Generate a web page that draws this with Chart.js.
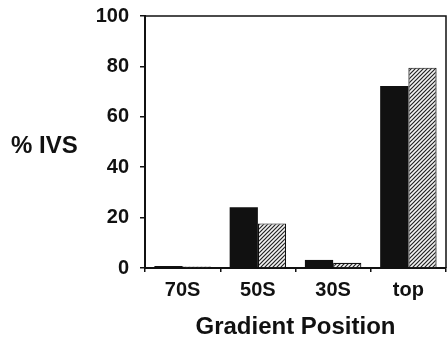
<!DOCTYPE html>
<html>
<head>
<meta charset="utf-8">
<script src="https://cdn.jsdelivr.net/npm/chart.js@4.4.1/dist/chart.umd.min.js"></script>
<style>
  html, body { margin: 0; padding: 0; background: #fff; }
  #wrap { width: 448px; height: 338px; position: relative; }
</style>
</head>
<body>
<div id="wrap"><canvas id="c" width="448" height="338"></canvas></div>
<script>
const categories = ['70S', '50S', '30S', 'top'];
const solidValues = [0.8, 24.1, 3.2, 72.2];
const hatchedValues = [0.6, 17.7, 2.1, 79.5];
const yTickValues = [0, 20, 40, 60, 80, 100];
const yAxisLabel = '% IVS';
const xAxisLabel = 'Gradient Position';

function makeHatch() {
  const s = 4;
  const p = document.createElement('canvas');
  p.width = s; p.height = s;
  const g = p.getContext('2d');
  g.fillStyle = '#f4f4f4';
  g.fillRect(0, 0, s, s);
  g.strokeStyle = '#222';
  g.lineWidth = 1.2;
  g.beginPath();
  g.moveTo(-1, s + 1); g.lineTo(s + 1, -1);
  g.moveTo(-1, 1); g.lineTo(1, -1);
  g.moveTo(s - 1, s + 1); g.lineTo(s + 1, s - 1);
  g.stroke();
  return g.createPattern(p, 'repeat');
}

const ctx = document.getElementById('c').getContext('2d');
const hatch = makeHatch();
const FONT = "'Liberation Sans', Arial, Helvetica, sans-serif";

const framePlugin = {
  id: 'frame',
  afterDraw(chart) {
    const a = chart.chartArea;
    const c = chart.ctx;
    c.save();
    c.strokeStyle = '#111';
    c.lineWidth = 1.5;
    c.beginPath();
    c.moveTo(a.left, a.top);
    c.lineTo(a.right, a.top);
    c.lineTo(a.right, a.bottom);
    c.stroke();
    c.fillStyle = '#111';
    c.font = 'bold 24px ' + FONT;
    c.textAlign = 'left';
    c.textBaseline = 'middle';
    c.fillText(yAxisLabel, 11, 146);
    c.restore();
  }
};

new Chart(ctx, {
  type: 'bar',
  data: {
    labels: categories,
    datasets: [
      { data: solidValues, backgroundColor: '#111', borderColor: '#111', borderWidth: 0 },
      { data: hatchedValues, backgroundColor: hatch, borderColor: '#111', borderWidth: 1.2 }
    ]
  },
  options: {
    responsive: false,
    animation: false,
    devicePixelRatio: 1,
    layout: { padding: { left: 0, right: 2, top: 16, bottom: 0 } },
    plugins: { legend: { display: false }, tooltip: { enabled: false } },
    datasets: { bar: { categoryPercentage: 0.75, barPercentage: 1.0 } },
    scales: {
      x: {
        afterFit(s) { s.height = 70; s.paddingLeft = 0; s.paddingRight = 0; },
        grid: { display: true, drawOnChartArea: false, drawTicks: true, tickLength: 4, offset: true, color: '#111', lineWidth: 1.5 },
        border: { display: true, color: '#111', width: 2 },
        ticks: { color: '#111', font: { family: FONT, size: 20, weight: 'bold' }, padding: 6 },
        title: { display: true, text: xAxisLabel, color: '#111', font: { family: FONT, size: 24, weight: 'bold', lineHeight: 0.85 }, padding: { top: 8, bottom: 0 } }
      },
      y: {
        min: 0, max: 100,
        afterFit(s) { s.width = 145; s.paddingTop = 0; s.paddingBottom = 0; },
        afterBuildTicks(s) {
          s.ticks = [];
          for (let v = 0; v <= 100; v += 10) s.ticks.push({ value: v });
        },
        grid: { display: true, drawOnChartArea: false, drawTicks: true, tickLength: 5, color: '#111', lineWidth: 1.5 },
        border: { display: true, color: '#111', width: 2 },
        ticks: {
          color: '#111',
          font: { family: FONT, size: 20, weight: 'bold' },
          padding: 11,
          callback: (v) => yTickValues.includes(v) ? String(v) : ''
        }
      }
    }
  },
  plugins: [framePlugin]
});
</script>
</body>
</html>
